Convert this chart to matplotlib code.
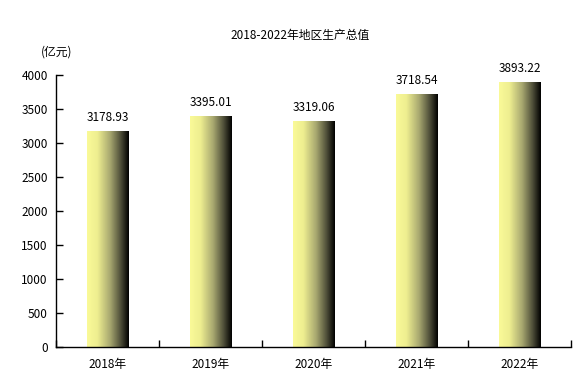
import numpy as np
import matplotlib
matplotlib.use("Agg")
import matplotlib.pyplot as plt
from matplotlib.colors import LinearSegmentedColormap

plt.rcParams['font.family'] = ['Noto Sans CJK SC', 'DejaVu Sans']

categories = ['2018年', '2019年', '2020年', '2021年', '2022年']
values = [3178.93, 3395.01, 3319.06, 3718.54, 3893.22]
labels = ['3178.93', '3395.01', '3319.06', '3718.54', '3893.22']
yticks = [0, 500, 1000, 1500, 2000, 2500, 3000, 3500, 4000]

fig = plt.figure(figsize=(5.79, 3.88), dpi=100)
ax = fig.add_axes([56/579, 41/388, 515/579, 272/388])

cmap = LinearSegmentedColormap.from_list('g', [(0.0, '#FAFA98'), (0.25, '#EEEE90'),
                                               (0.55, '#A8A870'), (0.8, '#50503A'), (1.0, '#000000')])
grad = np.linspace(0, 1, 256).reshape(1, -1)

x = np.arange(len(categories))
bw = 0.4
bars = ax.bar(x, values, width=bw, color='none', edgecolor='none')
for b in bars:
    x0, y0 = b.get_x(), b.get_y()
    im = ax.imshow(grad, cmap=cmap, aspect='auto', extent=[x0, x0 + b.get_width(), y0, y0 + b.get_height()],
                   zorder=2, interpolation='bilinear')
    im.set_clip_path(b)

for xi, v, t in zip(x, values, labels):
    ax.annotate(t, (xi, v), xytext=(0, 5), textcoords='offset points', ha='center', va='bottom', fontsize=8.5)

ax.set_xlim(-0.5, len(categories) - 0.5)
ax.set_ylim(0, 4000)
ax.set_yticks(yticks)
ax.set_yticklabels([str(t) for t in yticks], fontsize=8.5)
ax.set_xticks(x)
ax.set_xticklabels(categories, fontsize=8.5)
ax.set_xticks(np.arange(len(categories) + 1) - 0.5, minor=True)
ax.tick_params(axis='x', which='major', length=0, pad=8)
ax.tick_params(axis='x', which='minor', direction='in', length=5, width=1)
ax.tick_params(axis='y', direction='in', length=5, width=1, pad=6)
for s in ['top', 'right']:
    ax.spines[s].set_visible(False)
for s in ['left', 'bottom']:
    ax.spines[s].set_linewidth(1)
    ax.spines[s].set_color('black')

fig.text(300/579, 1 - 35/388, '2018-2022年地区生产总值', ha='center', va='center', fontsize=8.5)
fig.text(57/579, 1 - 52/388, '(亿元)', ha='center', va='center', fontsize=8.5)

fig.savefig('out.png', dpi=100)
